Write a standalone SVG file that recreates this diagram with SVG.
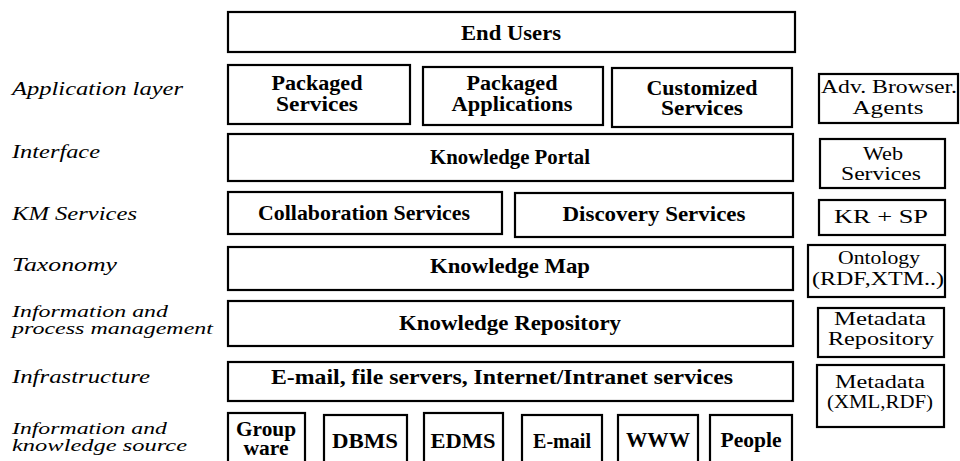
<svg xmlns="http://www.w3.org/2000/svg" width="960" height="461" viewBox="0 0 960 461">
  <style>
    .box { fill: #fff; stroke: #000; stroke-width: 2.2; }
    .t { font-family: "Liberation Serif", "DejaVu Serif", serif; font-weight: bold; font-size: 21px; text-anchor: middle; fill: #000; }
    .t2 { font-family: "Liberation Serif", "DejaVu Serif", serif; font-weight: bold; font-size: 20px; text-anchor: middle; fill: #000; }
    .r { font-family: "Liberation Serif", "DejaVu Serif", serif; font-size: 19px; text-anchor: middle; fill: #000; }
    .lab { font-family: "Liberation Serif", "DejaVu Serif", serif; font-style: italic; font-size: 19px; fill: #000; }
    .lab2 { font-family: "Liberation Serif", "DejaVu Serif", serif; font-style: italic; font-size: 17px; fill: #000; }
  </style>
  <rect width="960" height="461" fill="#fff"/>

  <!-- layer names, left column -->
  <g id="layer-labels">
    <text class="lab" x="12" y="95" textLength="171" lengthAdjust="spacingAndGlyphs">Application layer</text>
    <text class="lab" x="12" y="158" textLength="88" lengthAdjust="spacingAndGlyphs">Interface</text>
    <text class="lab" x="12" y="220" textLength="125" lengthAdjust="spacingAndGlyphs">KM Services</text>
    <text class="lab" x="12" y="271" textLength="105" lengthAdjust="spacingAndGlyphs">Taxonomy</text>
    <text class="lab2" x="12" y="317" textLength="156" lengthAdjust="spacingAndGlyphs">Information and</text>
    <text class="lab2" x="12" y="334" textLength="201" lengthAdjust="spacingAndGlyphs">process management</text>
    <text class="lab" x="12" y="383" textLength="138" lengthAdjust="spacingAndGlyphs">Infrastructure</text>
    <text class="lab2" x="12" y="434" textLength="155" lengthAdjust="spacingAndGlyphs">Information and</text>
    <text class="lab2" x="12" y="451" textLength="175" lengthAdjust="spacingAndGlyphs">knowledge source</text>
  </g>

  <g id="end-users">
    <rect class="box" x="228" y="12" width="567" height="40"/>
    <text class="t" x="511" y="40" textLength="100" lengthAdjust="spacingAndGlyphs">End Users</text>
  </g>

  <g id="packaged-services">
    <rect class="box" x="228" y="65" width="182" height="59"/>
    <text class="t2" x="317" y="90" textLength="91" lengthAdjust="spacingAndGlyphs">Packaged</text>
    <text class="t2" x="317" y="111" textLength="82" lengthAdjust="spacingAndGlyphs">Services</text>
  </g>
  <g id="packaged-applications">
    <rect class="box" x="423" y="67" width="180" height="58"/>
    <text class="t2" x="512" y="90" textLength="91" lengthAdjust="spacingAndGlyphs">Packaged</text>
    <text class="t2" x="512" y="111" textLength="121" lengthAdjust="spacingAndGlyphs">Applications</text>
  </g>
  <g id="customized-services">
    <rect class="box" x="612" y="68" width="180" height="59"/>
    <text class="t2" x="702" y="95" textLength="111" lengthAdjust="spacingAndGlyphs">Customized</text>
    <text class="t2" x="702" y="115" textLength="82" lengthAdjust="spacingAndGlyphs">Services</text>
  </g>
  <g id="adv-browser-agents">
    <rect class="box" x="819" y="74" width="139" height="49"/>
    <text class="r" x="889" y="93" textLength="136" lengthAdjust="spacingAndGlyphs">Adv. Browser.</text>
    <text class="r" x="888" y="114" textLength="71" lengthAdjust="spacingAndGlyphs">Agents</text>
  </g>

  <g id="knowledge-portal">
    <rect class="box" x="228" y="134" width="565" height="47"/>
    <text class="t" x="510" y="164" textLength="160" lengthAdjust="spacingAndGlyphs">Knowledge Portal</text>
  </g>
  <g id="web-services">
    <rect class="box" x="820" y="139" width="125" height="49"/>
    <text class="r" x="883" y="160" textLength="40" lengthAdjust="spacingAndGlyphs">Web</text>
    <text class="r" x="881" y="180" textLength="80" lengthAdjust="spacingAndGlyphs">Services</text>
  </g>

  <g id="collaboration-services">
    <rect class="box" x="228" y="192" width="274" height="42"/>
    <text class="t" x="364" y="220" textLength="212" lengthAdjust="spacingAndGlyphs">Collaboration Services</text>
  </g>
  <g id="discovery-services">
    <rect class="box" x="515" y="193" width="278" height="44"/>
    <text class="t" x="654" y="221" textLength="183" lengthAdjust="spacingAndGlyphs">Discovery Services</text>
  </g>
  <g id="kr-sp">
    <rect class="box" x="819" y="200" width="126" height="35"/>
    <text class="r" x="881" y="223" textLength="94" lengthAdjust="spacingAndGlyphs">KR + SP</text>
  </g>

  <g id="knowledge-map">
    <rect class="box" x="228" y="247" width="565" height="43"/>
    <text class="t" x="510" y="273" textLength="160" lengthAdjust="spacingAndGlyphs">Knowledge Map</text>
  </g>
  <g id="ontology">
    <rect class="box" x="808" y="245" width="137" height="52"/>
    <text class="r" x="879" y="264" textLength="82" lengthAdjust="spacingAndGlyphs">Ontology</text>
    <text class="r" x="878" y="285" textLength="132" lengthAdjust="spacingAndGlyphs">(RDF,XTM..)</text>
  </g>

  <g id="knowledge-repository">
    <rect class="box" x="228" y="301" width="565" height="45"/>
    <text class="t" x="510" y="330" textLength="222" lengthAdjust="spacingAndGlyphs">Knowledge Repository</text>
  </g>
  <g id="metadata-repository">
    <rect class="box" x="818" y="308" width="126" height="49"/>
    <text class="r" x="880" y="325" textLength="92" lengthAdjust="spacingAndGlyphs">Metadata</text>
    <text class="r" x="881" y="345" textLength="106" lengthAdjust="spacingAndGlyphs">Repository</text>
  </g>

  <g id="infrastructure-services">
    <rect class="box" x="228" y="362" width="565" height="39"/>
    <text class="t" x="502" y="384" textLength="462" lengthAdjust="spacingAndGlyphs">E-mail, file servers, Internet/Intranet services</text>
  </g>
  <g id="metadata-xml-rdf">
    <rect class="box" x="817" y="365" width="127" height="62"/>
    <text class="r" x="880" y="388" textLength="90" lengthAdjust="spacingAndGlyphs">Metadata</text>
    <text class="r" x="880" y="408" textLength="106" lengthAdjust="spacingAndGlyphs">(XML,RDF)</text>
  </g>

  <!-- source row; boxes run past the lower edge -->
  <g id="groupware">
    <rect class="box" x="228" y="413" width="77" height="60"/>
    <text class="t2" x="266" y="436" textLength="60" lengthAdjust="spacingAndGlyphs">Group</text>
    <text class="t2" x="266" y="455" textLength="45" lengthAdjust="spacingAndGlyphs">ware</text>
  </g>
  <g id="dbms">
    <rect class="box" x="324" y="415" width="83" height="60"/>
    <text class="t" x="365" y="448" textLength="66" lengthAdjust="spacingAndGlyphs">DBMS</text>
  </g>
  <g id="edms">
    <rect class="box" x="424" y="413" width="79" height="60"/>
    <text class="t" x="463" y="448" textLength="65" lengthAdjust="spacingAndGlyphs">EDMS</text>
  </g>
  <g id="email">
    <rect class="box" x="522" y="415" width="80" height="60"/>
    <text class="t" x="562" y="448" textLength="58" lengthAdjust="spacingAndGlyphs">E-mail</text>
  </g>
  <g id="www">
    <rect class="box" x="618" y="415" width="80" height="60"/>
    <text class="t" x="658" y="447" textLength="64" lengthAdjust="spacingAndGlyphs">WWW</text>
  </g>
  <g id="people">
    <rect class="box" x="710" y="415" width="82" height="60"/>
    <text class="t" x="751" y="447" textLength="61" lengthAdjust="spacingAndGlyphs">People</text>
  </g>

  <g id="connectors"></g>
</svg>
